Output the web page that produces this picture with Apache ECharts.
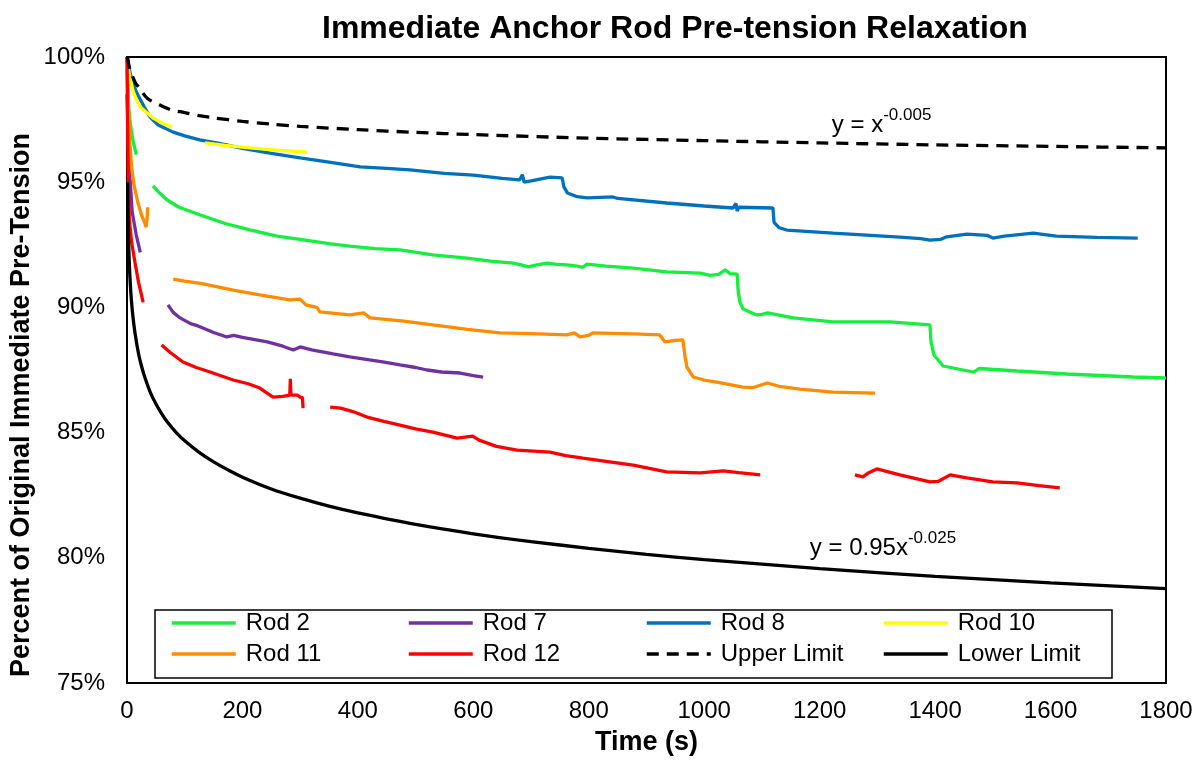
<!DOCTYPE html>
<html>
<head>
<meta charset="utf-8">
<script src="https://cdn.jsdelivr.net/npm/echarts@6/dist/echarts.min.js"></script>
<style>
  html, body { margin: 0; padding: 0; background: #fff; }
  #chart { width: 1202px; height: 761px; }
</style>
</head>
<body>
<div id="chart"></div>
<script>
// ---- Data (x: time in s, y: percent) ----
var seriesNames = ['Rod 2', 'Rod 7', 'Rod 8', 'Rod 10', 'Rod 11', 'Rod 12', 'Upper Limit', 'Lower Limit'];
var xTicks = [0, 200, 400, 600, 800, 1000, 1200, 1400, 1600, 1800];
var yTicks = [75, 80, 85, 90, 95, 100];

var rod2 = [[0,100],[1,99.2],[3,98.0],[6,97.3],[10,96.7],[16,96.1],[30,'-'],
  [45,94.85],[55,94.6],[69,94.3],[90,94.0],[126,93.7],[170,93.35],[213,93.1],[260,92.85],[300,92.72],[350,92.55],
  [386,92.45],[430,92.35],[473,92.3],[530,92.1],[589,91.97],[630,91.85],[669,91.77],[683,91.7],[695,91.62],[710,91.7],
  [728,91.77],[745,91.72],[762,91.7],[780,91.65],[790,91.6],[797,91.73],[830,91.65],[877,91.57],[935,91.42],[993,91.37],
  [1010,91.28],[1025,91.32],[1036,91.5],[1045,91.35],[1057,91.33],[1059,90.6],[1062,90.2],[1067,89.95],[1079,89.82],
  [1091,89.7],[1100,89.72],[1110,89.78],[1154,89.58],[1223,89.42],[1322,89.42],[1391,89.3],[1393,88.6],[1398,88.1],
  [1414,87.66],[1466,87.42],[1470,87.46],[1476,87.56],[1542,87.46],[1628,87.34],[1743,87.22],[1800,87.18]];

var rod7 = [[0,98.5],[3,96.0],[9,93.8],[16,92.9],[23,92.2],[45,'-'],
  [71,90.1],[80,89.8],[92,89.58],[110,89.35],[123,89.26],[150,89.0],[173,88.82],[185,88.88],[200,88.8],[243,88.62],
  [270,88.45],[288,88.3],[300,88.42],[320,88.3],[357,88.14],[386,88.02],[420,87.9],[443,87.82],[473,87.7],[500,87.6],
  [520,87.5],[545,87.42],[577,87.38],[600,87.28],[617,87.22]];

var rod8 = [[0,100],[2,99.76],[6,99.3],[10,98.96],[17,98.56],[30,98.0],[40,97.6],[54,97.28],[80,97.0],[100,96.85],
  [126,96.69],[160,96.55],[200,96.35],[250,96.15],[300,95.97],[350,95.8],[404,95.61],[450,95.55],[490,95.49],[550,95.35],
  [600,95.28],[650,95.15],[680,95.09],[685,95.3],[688,95.0],[700,95.05],[733,95.2],[754,95.17],[757,94.8],[763,94.57],
  [780,94.42],[797,94.37],[842,94.41],[850,94.35],[935,94.17],[1000,94.05],[1050,93.97],[1055,94.15],[1057,93.85],
  [1060,94.0],[1119,93.97],[1121,93.4],[1130,93.18],[1143,93.09],[1223,92.97],[1339,92.81],[1375,92.75],[1391,92.69],
  [1410,92.72],[1420,92.82],[1455,92.93],[1490,92.88],[1500,92.77],[1520,92.85],[1570,92.97],[1610,92.85],[1680,92.8],
  [1751,92.77]];

var rod10 = [[0,99.8],[2,99.56],[5,99.2],[10,98.68],[16,98.3],[23,98.0],[33,97.8],[45,97.56],[60,97.38],[78,97.2],[100,'-'],
  [135,96.57],[170,96.47],[213,96.37],[260,96.28],[312,96.2]];

var rod11 = [[0,99.5],[2,98.2],[5,96.57],[8,95.6],[12,94.9],[19,94.17],[25,93.7],[31,93.37],[33,93.2],[35,93.6],[36,94.0],[55,'-'],
  [80,91.13],[100,91.05],[130,90.95],[184,90.69],[230,90.5],[282,90.3],[300,90.33],[310,90.1],[329,90.0],[334,89.82],
  [386,89.7],[410,89.78],[421,89.58],[480,89.45],[530,89.3],[590,89.12],[646,88.98],[700,88.95],[762,88.9],[775,88.98],
  [785,88.82],[800,88.88],[807,88.98],[877,88.94],[923,88.9],[932,88.62],[950,88.68],[963,88.7],[965,88.75],[967,88.0],
  [970,87.62],[981,87.22],[1000,87.1],[1022,87.02],[1067,86.82],[1085,86.8],[1109,86.98],[1130,86.85],[1166,86.74],
  [1223,86.62],[1296,86.58]];

var rod12 = [[0,100],[1,97.5],[2,95.2],[4,93.5],[8,92.6],[14,91.77],[20,91.0],[28,90.2],[45,'-'],
  [60,88.5],[75,88.2],[97,87.82],[120,87.6],[144,87.42],[165,87.25],[184,87.1],[210,86.95],[230,86.78],[253,86.42],
  [270,86.45],[282,86.5],[283,87.15],[284,86.5],[295,86.5],[300,86.42],[304,86.4],[305,85.98],[330,'-'],
  [352,86.02],[370,85.98],[390,85.85],[416,85.62],[445,85.45],[473,85.3],[500,85.15],[530,85.02],[572,84.78],[599,84.86],
  [610,84.7],[640,84.45],[676,84.3],[733,84.22],[760,84.08],[790,83.98],[830,83.85],[877,83.7],[935,83.43],[993,83.39],
  [1033,83.47],[1060,83.4],[1097,83.31],[1180,'-'],
  [1261,83.31],[1275,83.23],[1285,83.4],[1299,83.55],[1339,83.31],[1391,83.03],[1405,83.05],[1426,83.31],[1455,83.19],
  [1500,83.03],[1542,82.99],[1580,82.88],[1616,82.79]];

var upperLimit = [[1,100],[3,99.7],[5,99.5],[10,99.2],[15,98.95],[22,98.75],[35,98.35],[57,98.08],[75,97.9],[100,97.78],
  [125,97.66],[150,97.57],[200,97.43],[250,97.32],[300,97.23],[400,97.1],[500,96.99],[600,96.9],[800,96.76],[1000,96.66],
  [1200,96.57],[1400,96.49],[1600,96.43],[1800,96.37]];

var lowerLimit = [[1,95],[2,93.37],[3,92.43],[4,91.77],[5,91.25],[7,90.47],[10,89.69],[14,88.96],[20,88.15],[25,87.67],
  [30,87.27],[40,86.63],[50,86.15],[60,85.76],[70,85.42],[85,85.01],[100,84.67],[125,84.21],[150,83.83],[175,83.51],
  [200,83.22],[250,82.75],[300,82.38],[350,82.06],[400,81.79],[500,81.33],[600,80.96],[700,80.65],[800,80.38],[900,80.14],
  [1000,79.93],[1200,79.57],[1400,79.26],[1600,79.0],[1800,78.77]];

var colors = ['#14f03c', '#7030a0', '#0070c0', '#ffff00', '#ff8c00', '#ff0000', '#000000', '#000000'];
var dataSets = [rod2, rod7, rod8, rod10, rod11, rod12, upperLimit, lowerLimit];

var FONT = 'Liberation Sans, Arial, sans-serif';

var series = dataSets.map(function (d, i) {
  return {
    name: seriesNames[i],
    type: 'line',
    data: d,
    showSymbol: false,
    symbol: 'none',
    connectNulls: false,
    smooth: i >= 6 ? 0.3 : false,
    animation: false,
    color: colors[i],
    lineStyle: { color: colors[i], width: 3.3, type: i === 6 ? [12, 8] : 'solid' }
  };
});

var richSup = {
  a: { fontFamily: FONT, fontSize: 24, color: '#000', lineHeight: 30, verticalAlign: 'bottom' },
  b: { fontFamily: FONT, fontSize: 17, color: '#000', lineHeight: 17, verticalAlign: 'top' }
};
series[6].markPoint = {
  symbolSize: 0,
  animation: false,
  data: [{ coord: [1221, 97.4] }],
  label: { show: true, position: 'right', distance: 0, formatter: '{a|y = x}{b|-0.005}', rich: richSup }
};
series[7].markPoint = {
  symbolSize: 0,
  animation: false,
  data: [{ coord: [1183, 80.51] }],
  label: { show: true, position: 'right', distance: 0, formatter: '{a|y = 0.95x}{b|-0.025}', rich: richSup }
};

var legendCols = [['Rod 2', 'Rod 11'], ['Rod 7', 'Rod 12'], ['Rod 8', 'Upper Limit'], ['Rod 10', 'Lower Limit']];
var legendLefts = [170, 407, 645, 882];
var legends = legendCols.map(function (names, i) {
  return {
    data: names,
    orient: 'vertical',
    left: legendLefts[i],
    top: 611,
    itemWidth: 64,
    itemHeight: 14,
    itemGap: 7,
    padding: 0,
    selectedMode: false,
    itemStyle: { opacity: 0 },
    lineStyle: { width: 3.5 },
    textStyle: { fontFamily: FONT, fontSize: 24, color: '#000', padding: [0, 0, 0, 5] }
  };
});

var chart = echarts.init(document.getElementById('chart'), null, { renderer: 'canvas' });
chart.setOption({
  backgroundColor: '#fff',
  animation: false,
  title: {
    text: 'Immediate Anchor Rod Pre-tension Relaxation',
    left: 317, top: 8,
    textStyle: { fontFamily: FONT, fontSize: 32, fontWeight: 'bold', color: '#000' }
  },
  legend: legends,
  grid: { left: 127, right: 36, top: 57, bottom: 78, show: true, borderColor: '#000', borderWidth: 2, containLabel: false },
  xAxis: {
    type: 'value', min: 0, max: 1800, interval: 200,
    name: 'Time (s)', nameLocation: 'middle', nameGap: 46,
    nameTextStyle: { fontFamily: FONT, fontSize: 27, fontWeight: 'bold', color: '#000' },
    axisLine: { show: true, lineStyle: { color: '#000', width: 2 } },
    axisTick: { show: false },
    splitLine: { show: false },
    axisLabel: { fontFamily: FONT, fontSize: 24, color: '#000', margin: 16,
      formatter: function (v) { return xTicks.indexOf(v) >= 0 ? String(v) : ''; } }
  },
  yAxis: {
    type: 'value', min: 75, max: 100, interval: 5,
    axisLine: { show: true, lineStyle: { color: '#000', width: 2 } },
    axisTick: { show: false },
    splitLine: { show: false },
    axisLabel: { fontFamily: FONT, fontSize: 24, color: '#000', margin: 22,
      formatter: function (v) { return yTicks.indexOf(v) >= 0 ? v + '%' : ''; } }
  },
  graphic: [
    { type: 'rect', shape: { x: 155, y: 610, width: 957, height: 68 }, style: { fill: '#fff', stroke: '#000', lineWidth: 1.5 }, z: 2, silent: true },
    { type: 'text', x: 22, y: 405, rotation: Math.PI / 2, z: 10,
      style: { text: 'Percent of Original Immediate Pre-Tension', fontFamily: FONT, fontSize: 27, fontWeight: 'bold', fill: '#000', textAlign: 'center', textVerticalAlign: 'middle' } }
  ],
  series: series
});
</script>
</body>
</html>
